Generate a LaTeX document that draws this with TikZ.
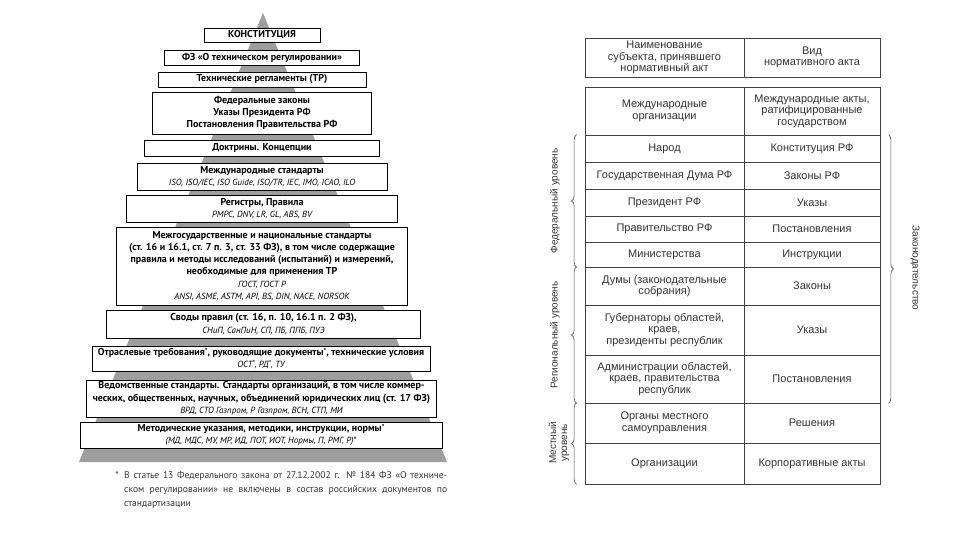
\documentclass[tikz,border=0pt]{standalone}
\usepackage{fontspec}
\setmainfont{PT Sans}
\newfontfamily\tabfont{Liberation Sans}
\usetikzlibrary{decorations.pathreplacing}

\newcommand{\pyrfont}{\fontsize{10}{12.3}\selectfont\bfseries}
\newcommand{\lst}[1]{{\mdseries\itshape\fontsize{8.9}{12.3}\selectfont #1}}
\newcommand{\fnst}{\raisebox{2pt}{\fontsize{7}{7}\selectfont*}}

\begin{document}
\begin{tikzpicture}[x=1pt,y=-1pt,
    tier/.style={draw,line width=0.9pt,fill=white,inner sep=1pt,align=center,font=\pyrfont},
    cell/.style={draw=black!75,line width=0.7pt,inner sep=1pt,align=center,
      text=black!80,font=\tabfont\fontsize{11}{11.5}\selectfont},
    lvl/.style={text=black!80,font=\tabfont\fontsize{10}{11}\selectfont,align=center},
    brc/.style={draw=black!70,line width=0.6pt,decorate,decoration={brace,amplitude=5pt}}]
    \useasboundingbox (0,0) rectangle (960,540);
    % pyramid
    \fill[black!38] (263,13) -- (447,462) -- (79,462) -- cycle;
    \node[tier,minimum width=116,minimum height=14] (konst) at (262,35) {КОНСТИТУЦИЯ};
    \node[tier,minimum width=195,minimum height=15] (fz) at (262,57.5) {ФЗ «О техническом регулировании»};
    \node[tier,minimum width=208,minimum height=15] (treg) at (262,79.5) {Технические регламенты (ТР)};
    \node[tier,minimum width=219,minimum height=42] (fedzak) at (262,113) {Федеральные законы\\Указы Президента РФ\\Постановления Правительства РФ};
    \node[tier,minimum width=235,minimum height=16] (doktr) at (262,148) {Доктрины. Концепции};
    \node[tier,minimum width=250,minimum height=27] (intstd) at (262,176.5) {Международные стандарты\\\lst{ISO, ISO/IEC, ISO Guide, ISO/TR, IEC, IMO, ICAO, ILO}};
    \node[tier,minimum width=271,minimum height=27] (regist) at (262,208.5) {Регистры, Правила\\\lst{РМРС, DNV, LR, GL, ABS, BV}};
    \node[tier,minimum width=291,minimum height=78] (natstd) at (262,266) {Межгосударственные и национальные стандарты\\(ст. 16 и 16.1, ст. 7 п. 3, ст. 33 ФЗ), в том числе содержащие\\правила и методы исследований (испытаний) и измерений,\\необходимые для применения ТР\\\lst{ГОСТ, ГОСТ Р}\\\lst{ANSI, ASME, ASTM, API, BS, DIN, NACE, NORSOK}};
    \node[tier,minimum width=314,minimum height=28] (svody) at (263.5,324) {Своды правил (ст. 16, п. 10, 16.1 п. 2 ФЗ),\\\lst{СНиП, СанПиН, СП, ПБ, ППБ, ПУЭ}};
    \node[tier,minimum width=338,minimum height=25] (otrasl) at (261,358.5) {Отраслевые требования\fnst, руководящие документы\fnst, технические условия\\\lst{ОСТ\fnst, РД\fnst, ТУ}};
    \node[tier,minimum width=350,minimum height=37] (vedstd) at (261.5,398.5) {Ведомственные стандарты. Стандарты организаций, в том числе коммер-\\ческих, общественных, научных, объединений юридических лиц (ст. 17 ФЗ)\\\lst{ВРД, СТО Газпром, Р Газпром, ВСН, СТП, МИ}};
    \node[tier,minimum width=362,minimum height=26] (metod) at (261,435) {Методические указания, методики, инструкции, нормы\fnst\\\lst{(МД, МДС, МУ, МР, ИД, ПОТ, ИОТ, Нормы, П, РМГ, Р)*}};
    \node[anchor=north east,inner sep=0,font=\fontsize{9.6}{14}\selectfont,text=black!80] (fnmark) at (119,471) {*};
    \node[anchor=north west,inner sep=0,text width=323,align=justify,font=\fontsize{9.6}{14}\selectfont,text=black!80] (fntext) at (124,471) {В статье 13 Федерального закона от 27.12.2002 г. № 184 ФЗ «О техниче-\linebreak ском регулировании» не включены в состав российских документов по\linebreak стандартизации};
    % table
    \node[cell,minimum width=159,minimum height=39] (hsubj) at (664.5,57.5) {Наименование\\субъекта, принявшего\\нормативный акт};
    \node[cell,minimum width=136,minimum height=39] (hkind) at (812,57.5) {Вид\\нормативного акта};
    \node[cell,minimum width=159,minimum height=48] (intorg) at (664.5,111) {Международные\\организации};
    \node[cell,minimum width=136,minimum height=48] (intact) at (812,111) {Международные акты,\\ратифицированные\\государством};
    \node[cell,minimum width=159,minimum height=27] (narod) at (664.5,148.5) {Народ};
    \node[cell,minimum width=136,minimum height=27] (konrf) at (812,148.5) {Конституция РФ};
    \node[cell,minimum width=159,minimum height=27] (gosduma) at (664.5,175.5) {Государственная Дума РФ};
    \node[cell,minimum width=136,minimum height=27] (zakrf) at (812,175.5) {Законы РФ};
    \node[cell,minimum width=159,minimum height=27] (prez) at (664.5,202.5) {Президент РФ};
    \node[cell,minimum width=136,minimum height=27] (ukaz) at (812,202.5) {Указы};
    \node[cell,minimum width=159,minimum height=26] (prav) at (664.5,229) {Правительство РФ};
    \node[cell,minimum width=136,minimum height=26] (post) at (812,229) {Постановления};
    \node[cell,minimum width=159,minimum height=25] (minist) at (664.5,254.5) {Министерства};
    \node[cell,minimum width=136,minimum height=25] (instr) at (812,254.5) {Инструкции};
    \node[cell,minimum width=159,minimum height=38] (dumy) at (664.5,286) {Думы (законодательные\\собрания)};
    \node[cell,minimum width=136,minimum height=38] (zakony) at (812,286) {Законы};
    \node[cell,minimum width=159,minimum height=50] (gub) at (664.5,330) {Губернаторы областей,\\краев,\\президенты республик};
    \node[cell,minimum width=136,minimum height=50] (ukazy) at (812,330) {Указы};
    \node[cell,minimum width=159,minimum height=48] (admin) at (664.5,379) {Администрации областей,\\краев, правительства\\республик};
    \node[cell,minimum width=136,minimum height=48] (postreg) at (812,379) {Постановления};
    \node[cell,minimum width=159,minimum height=40] (organy) at (664.5,423) {Органы местного\\самоуправления};
    \node[cell,minimum width=136,minimum height=40] (resh) at (812,423) {Решения};
    \node[cell,minimum width=159,minimum height=41] (orgs) at (664.5,463.5) {Организации};
    \node[cell,minimum width=136,minimum height=41] (korp) at (812,463.5) {Корпоративные акты};
    % levels
    \draw[brc] ([xshift=-8]minist.south west) -- ([xshift=-8]narod.north west);
    \draw[brc] ([xshift=-8]admin.south west) -- ([xshift=-8]dumy.north west);
    \draw[brc] ([xshift=-8]orgs.south west) -- ([xshift=-8]organy.north west);
    \draw[brc] ([xshift=8]konrf.north east) -- ([xshift=8]postreg.south east);
    \node[lvl,rotate=90] (fedlvl) at (555,201) {Федеральный уровень};
    \node[lvl,rotate=90] (reglvl) at (555,335) {Региональный уровень};
    \node[lvl,rotate=90] (loclvl) at (559,443) {Местный\\уровень};
    \node[lvl,rotate=-90] (zakon) at (915,268) {Законодательство};
\end{tikzpicture}
\end{document}
